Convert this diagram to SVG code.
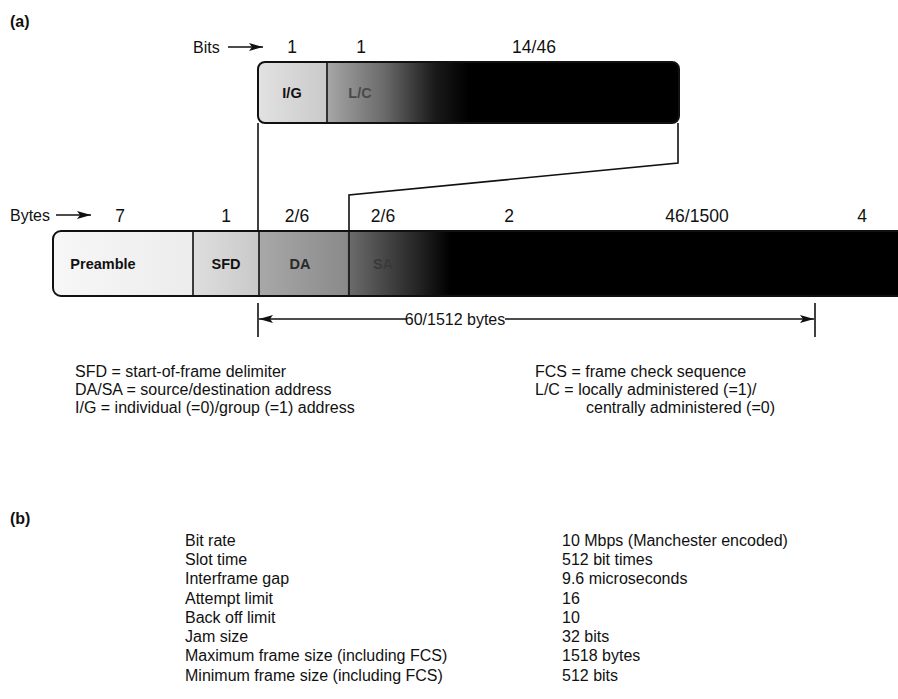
<svg xmlns="http://www.w3.org/2000/svg" width="898" height="699" viewBox="0 0 898 699">
<defs>
<style>
text{font-family:"Liberation Sans",Arial,sans-serif;font-size:16px;fill:#111}
.b{font-weight:bold}
.m{text-anchor:middle}
.num{font-size:17.5px;text-anchor:middle}
.ln{stroke:#111;stroke-width:1.6;fill:none}
.box{stroke:#111;stroke-width:2}
.in{font-weight:bold;font-size:14.5px;text-anchor:middle}
</style>
<linearGradient id="gFrame" gradientUnits="userSpaceOnUse" x1="53" y1="0" x2="898" y2="0">
<stop offset="0" stop-color="#f7f7f7"/>
<stop offset="0.165" stop-color="#ececec"/>
<stop offset="0.167" stop-color="#dedede"/>
<stop offset="0.243" stop-color="#c9c9c9"/>
<stop offset="0.245" stop-color="#a8a8a8"/>
<stop offset="0.348" stop-color="#8a8a8a"/>
<stop offset="0.35" stop-color="#6c6c6c"/>
<stop offset="0.43" stop-color="#262626"/>
<stop offset="0.47" stop-color="#000"/>
<stop offset="1" stop-color="#000"/>
</linearGradient>
<linearGradient id="gBits" gradientUnits="userSpaceOnUse" x1="258" y1="0" x2="679" y2="0">
<stop offset="0" stop-color="#e2e2e2"/>
<stop offset="0.162" stop-color="#cacaca"/>
<stop offset="0.166" stop-color="#a6a6a6"/>
<stop offset="0.3" stop-color="#6a6a6a"/>
<stop offset="0.42" stop-color="#1a1a1a"/>
<stop offset="0.5" stop-color="#000"/>
<stop offset="1" stop-color="#000"/>
</linearGradient>
<marker id="ah" viewBox="0 0 14 8" refX="14" refY="4" markerWidth="14" markerHeight="8" markerUnits="userSpaceOnUse" orient="auto-start-reverse">
<path d="M0,0 L14,4 L0,8 L3,4 Z" fill="#111"/>
</marker>
</defs>

<text class="b" x="10" y="27" style="font-size:16px">(a)</text>

<g id="bits-labels">
<text x="193" y="53">Bits</text>
<line class="ln" x1="228" y1="47" x2="263" y2="47" marker-end="url(#ah)"/>
<text class="num" x="292" y="53">1</text>
<text class="num" x="361" y="53">1</text>
<text class="num" x="534" y="53">14/46</text>
</g>

<g id="address-bits">
<rect class="box" x="258" y="62" width="421" height="61" rx="7" fill="url(#gBits)"/>
<line class="ln" x1="327" y1="62" x2="327" y2="123" stroke-width="2"/>
<text class="in" x="292" y="98">I/G</text>
<text class="in" x="360" y="98" style="fill:#4a4a4a">L/C</text>
</g>

<g id="connectors">
<polyline class="ln" points="258,123 258,231"/>
<polyline class="ln" points="678,123 678,163 349,195 349,231"/>
</g>

<g id="bytes-labels">
<text x="10" y="221">Bytes</text>
<line class="ln" x1="56" y1="215" x2="91" y2="215" marker-end="url(#ah)"/>
<text class="num" x="120" y="222">7</text>
<text class="num" x="226" y="222">1</text>
<text class="num" x="297" y="222">2/6</text>
<text class="num" x="383" y="222">2/6</text>
<text class="num" x="509" y="222">2</text>
<text class="num" x="697" y="222">46/1500</text>
<text class="num" x="862" y="222">4</text>
</g>

<g id="frame">
<rect class="box" x="53" y="231" width="870" height="65" rx="8" fill="url(#gFrame)"/>
<line class="ln" x1="193" y1="231" x2="193" y2="296" stroke-width="2"/>
<line class="ln" x1="259" y1="231" x2="259" y2="296" stroke-width="2"/>
<line class="ln" x1="349" y1="231" x2="349" y2="296" stroke-width="1.2"/>
<text class="in" x="103" y="269">Preamble</text>
<text class="in" x="226" y="269">SFD</text>
<text class="in" x="300" y="269" style="fill:#2a2a2a">DA</text>
<text class="in" x="383" y="269" style="fill:#3a3a3a">SA</text>
</g>

<g id="length">
<line class="ln" x1="258" y1="303" x2="258" y2="337"/>
<line class="ln" x1="815" y1="303" x2="815" y2="337"/>
<line class="ln" x1="406" y1="319" x2="259" y2="319" marker-end="url(#ah)"/>
<line class="ln" x1="505" y1="319" x2="814" y2="319" marker-end="url(#ah)"/>
<text class="m" x="455" y="325">60/1512 bytes</text>
</g>

<g id="legend">
<text x="75" y="377">SFD = start-of-frame delimiter</text>
<text x="75" y="395">DA/SA = source/destination address</text>
<text x="75" y="413">I/G = individual (=0)/group (=1) address</text>
<text x="535" y="377">FCS = frame check sequence</text>
<text x="535" y="395">L/C = locally administered (=1)/</text>
<text x="586" y="413">centrally administered (=0)</text>
</g>

<text class="b" x="10" y="524" style="font-size:16px">(b)</text>

<g id="table">
<text x="185" y="546">Bit rate</text>
<text x="185" y="565">Slot time</text>
<text x="185" y="584">Interframe gap</text>
<text x="185" y="604">Attempt limit</text>
<text x="185" y="623">Back off limit</text>
<text x="185" y="642">Jam size</text>
<text x="185" y="661">Maximum frame size (including FCS)</text>
<text x="185" y="681">Minimum frame size (including FCS)</text>
<text x="562" y="546">10 Mbps (Manchester encoded)</text>
<text x="562" y="565">512 bit times</text>
<text x="562" y="584">9.6 microseconds</text>
<text x="562" y="604">16</text>
<text x="562" y="623">10</text>
<text x="562" y="642">32 bits</text>
<text x="562" y="661">1518 bytes</text>
<text x="562" y="681">512 bits</text>
</g>
</svg>
